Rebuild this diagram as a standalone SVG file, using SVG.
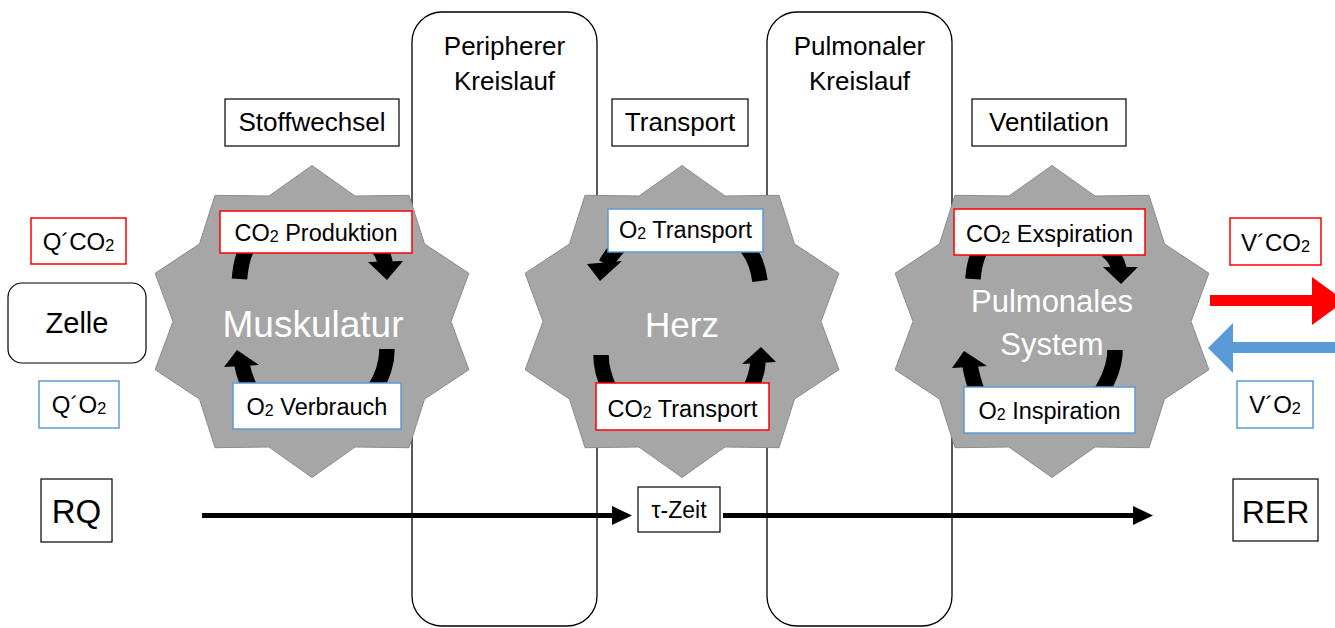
<svg xmlns="http://www.w3.org/2000/svg" xmlns:xlink="http://www.w3.org/1999/xlink" width="1335" height="628" viewBox="0 0 1335 628">
<style>
.t{font-family:"Liberation Sans",Arial,sans-serif;text-anchor:middle;fill:#000}
.w{fill:#fff}
.box{fill:#fff;stroke:#000;stroke-width:1.2}
.rbox{fill:#fff;stroke:#ff0000;stroke-width:1.5}
.bbox{fill:#fff;stroke:#5b9bd5;stroke-width:1.5}
.col{fill:#fff;stroke:#000;stroke-width:1.3}
.star{fill:#a6a6a6;stroke:#8c8c8c;stroke-width:1}
.arc{fill:none;stroke:#000;stroke-width:15.5}
.hd{fill:#000}
.ln{fill:none;stroke:#000;stroke-width:5}
.s{font-size:0.68em}
</style>
<defs>
<polygon id="star" points="0,-156 43,-125.5 97,-126.2 112.5,-77.6 156.9,-48.2 139,0 156.9,48.2 112.5,77.6 97,126.2 43,125.5 0,156 -43,125.5 -97,126.2 -112.5,77.6 -156.9,48.2 -139,0 -156.9,-48.2 -112.5,-77.6 -97,-126.2 -43,-125.5"/>
<marker id="ah" markerUnits="userSpaceOnUse" markerWidth="20" markerHeight="20" viewBox="0 0 20 20" refX="0" refY="10" orient="auto">
<path d="M0,0.5 L20,10 L0,19.5 z" fill="#000"/>
</marker>
</defs>

<g id="col-peripher">
<rect class="col" x="412" y="12" width="185" height="614" rx="30"/>
<text class="t" x="504.5" y="55" font-size="26">Peripherer</text>
<text class="t" x="504.5" y="90" font-size="26">Kreislauf</text>
</g>
<g id="col-pulmonal">
<rect class="col" x="767" y="12" width="185" height="614" rx="30"/>
<text class="t" x="859.5" y="55" font-size="26">Pulmonaler</text>
<text class="t" x="859.5" y="90" font-size="26">Kreislauf</text>
</g>

<g id="muskulatur">
<use xlink:href="#star" href="#star" class="star" x="312" y="321.5"/>
<text class="t w" x="313" y="337" font-size="37">Muskulatur</text>
</g>
<g id="herz">
<use xlink:href="#star" href="#star" class="star" x="682" y="321.5"/>
<text class="t w" x="682" y="337" font-size="35">Herz</text>
</g>
<g id="pulmonales">
<use xlink:href="#star" href="#star" class="star" x="1052" y="321.5"/>
<text class="t w" x="1052" y="312" font-size="31">Pulmonales</text>
<text class="t w" x="1052" y="355" font-size="31">System</text>
</g>

<g id="connectors">
<path class="arc" d="M249 244 Q241 258 239.5 279"/>
<path class="arc" d="M374 244 Q384 252 385 264"/>
<polygon class="hd" points="368,262 403,261 387,280"/>
<path class="arc" d="M387 349 Q387 370 374 390"/>
<path class="arc" d="M242 364 Q244 377 252 392"/>
<polygon class="hd" points="237,350 224,367 259,365"/>
<path class="arc" d="M627 240 Q613 250 606 264"/>
<polygon class="hd" points="587,264 622,261 600,281"/>
<path class="arc" d="M744 244 Q757 258 760 281"/>
<path class="arc" d="M601 355 Q601 372 610 390"/>
<path class="arc" d="M758 362 Q757 376 749 392"/>
<polygon class="hd" points="761,347 742,364 776,362"/>
<path class="arc" d="M981 248 Q974 262 973 279"/>
<path class="arc" d="M1106 250 Q1116 256 1119 269"/>
<polygon class="hd" points="1103,267 1138,267 1121,284"/>
<path class="arc" d="M1115 350 Q1115 370 1100 394"/>
<path class="arc" d="M970 365 Q972 378 978 394"/>
<polygon class="hd" points="964,351 952,368 987,366"/>
<path class="ln" d="M202 515.5 L612 515.5" marker-end="url(#ah)"/>
<path class="ln" d="M723 515.5 L1133 515.5" marker-end="url(#ah)"/>
<polygon fill="#ff0000" points="1210,295 1312,295 1312,277 1345,301 1312,325 1312,306 1210,306"/>
<polygon fill="#5b9bd5" points="1345,342 1233,342 1233,323 1208,348 1233,373 1233,353 1345,353"/>
</g>

<g id="stoffwechsel">
<rect class="box" x="225" y="99" width="174" height="47"/>
<text class="t" x="312" y="131" font-size="26">Stoffwechsel</text>
</g>
<g id="transport">
<rect class="box" x="612" y="99" width="136" height="47"/>
<text class="t" x="680" y="131" font-size="26">Transport</text>
</g>
<g id="ventilation">
<rect class="box" x="972" y="99" width="154" height="47"/>
<text class="t" x="1049" y="131" font-size="26">Ventilation</text>
</g>

<g id="co2-produktion">
<rect class="rbox" x="220" y="211" width="192" height="42"/>
<text class="t" x="316" y="241" font-size="23.5">CO<tspan class="s" dy="1">2</tspan><tspan dy="-1"> Produktion</tspan></text>
</g>
<g id="o2-verbrauch">
<rect class="bbox" x="233" y="383" width="168" height="46"/>
<text class="t" x="317" y="415" font-size="23.5">O<tspan class="s" dy="1">2</tspan><tspan dy="-1"> Verbrauch</tspan></text>
</g>
<g id="o2-transport">
<rect class="bbox" x="608" y="209" width="155" height="43"/>
<text class="t" x="685.5" y="238" font-size="23.5">O<tspan class="s" dy="1">2</tspan><tspan dy="-1"> Transport</tspan></text>
</g>
<g id="co2-transport">
<rect class="rbox" x="596" y="383" width="173" height="47"/>
<text class="t" x="682.5" y="417" font-size="23.5">CO<tspan class="s" dy="1">2</tspan><tspan dy="-1"> Transport</tspan></text>
</g>
<g id="co2-exspiration">
<rect class="rbox" x="954" y="209" width="191" height="46"/>
<text class="t" x="1049.5" y="242" font-size="23.5">CO<tspan class="s" dy="1">2</tspan><tspan dy="-1"> Exspiration</tspan></text>
</g>
<g id="o2-inspiration">
<rect class="bbox" x="964" y="387" width="171" height="46"/>
<text class="t" x="1049.5" y="419" font-size="23.5">O<tspan class="s" dy="1">2</tspan><tspan dy="-1"> Inspiration</tspan></text>
</g>

<g id="qco2">
<rect class="rbox" x="31" y="218" width="95" height="46"/>
<text class="t" x="78.5" y="250" font-size="24">Q´CO<tspan class="s" dy="1">2</tspan></text>
</g>
<g id="zelle">
<rect class="box" x="8" y="283" width="138" height="80" rx="14"/>
<text class="t" x="77" y="333" font-size="29">Zelle</text>
</g>
<g id="qo2">
<rect class="bbox" x="39" y="381" width="80" height="47"/>
<text class="t" x="79" y="413" font-size="24">Q´O<tspan class="s" dy="1">2</tspan></text>
</g>
<g id="vco2">
<rect class="rbox" x="1230" y="218" width="91" height="47"/>
<text class="t" x="1275.5" y="251" font-size="24">V´CO<tspan class="s" dy="1">2</tspan></text>
</g>
<g id="vo2">
<rect class="bbox" x="1237" y="381" width="76" height="47"/>
<text class="t" x="1275" y="413" font-size="24">V´O<tspan class="s" dy="1">2</tspan></text>
</g>

<g id="rq">
<rect class="box" x="41" y="479" width="71" height="63"/>
<text class="t" x="76.5" y="523" font-size="33">RQ</text>
</g>
<g id="tau">
<rect class="box" x="638" y="487" width="82" height="45"/>
<text class="t" x="679" y="518" font-size="23">τ-Zeit</text>
</g>
<g id="rer">
<rect class="box" x="1233" y="479" width="85" height="62"/>
<text class="t" x="1275.5" y="523" font-size="32">RER</text>
</g>
</svg>
